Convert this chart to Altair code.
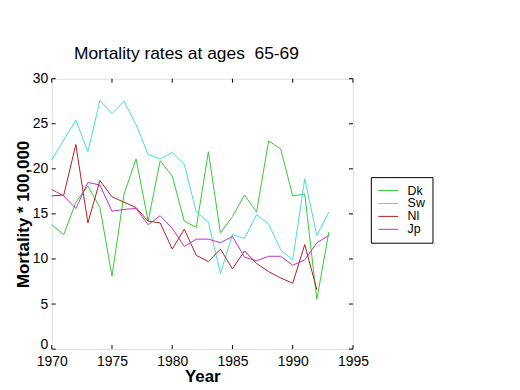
import altair as alt
import pandas as pd

years = list(range(1970, 1994))
years_nl = list(range(1970, 1993))

dk = [13.8, 12.7, 16.3, 18.1, 15.7, 8.1, 17.2, 21.1, 14.2, 20.9, 19.2, 14.2, 13.5, 21.9,
      12.9, 14.7, 17.1, 15.2, 23.1, 22.2, 17.0, 17.2, 5.5, 13.0]
sw = [21.0, 23.2, 25.4, 21.9, 27.6, 26.1, 27.5, 24.9, 21.6, 21.1, 21.8, 20.5, 15.2, 14.1,
      8.4, 12.7, 12.3, 14.9, 13.9, 11.0, 9.9, 18.9, 12.6, 15.2]
nl = [17.0, 17.1, 22.7, 14.0, 18.7, 16.9, 16.3, 15.7, 14.2, 14.0, 11.1, 13.3, 10.4, 9.7,
      11.1, 8.9, 10.9, 9.5, 8.6, 7.9, 7.3, 11.6, 6.6]
jp = [17.7, 17.0, 15.6, 18.5, 18.2, 15.3, 15.5, 15.6, 13.8, 14.8, 13.4, 11.4, 12.2, 12.2,
      11.8, 12.5, 10.2, 9.8, 10.3, 10.3, 9.3, 9.9, 11.8, 12.6]

names = ["Dk", "Sw", "Nl", "Jp"]
colors = ["#33cc33", "#44dddd", "#b41e1e", "#c030c0"]
x_ticks = [1970, 1975, 1980, 1985, 1990, 1995]
y_ticks = [0, 5, 10, 15, 20, 25, 30]

rows = []
for name, xs, vals in [("Dk", years, dk), ("Sw", years, sw), ("Nl", years_nl, nl), ("Jp", years, jp)]:
    for yr, v in zip(xs, vals):
        rows.append({"year": yr, "value": v, "country": name})
df = pd.DataFrame(rows)

W, H = 303, 272
font = "Liberation Sans"

x_scale = alt.Scale(domain=[1970, 1995], nice=False, zero=False)
y_scale = alt.Scale(domain=[0, 30], nice=False, zero=True)

x_axis = alt.Axis(values=x_ticks, format="d", title="Year", grid=False,
                  ticks=False, tickSize=0, domain=False, labelPadding=5,
                  labelFontSize=14, labelFont=font, labelColor="black",
                  titleFont=font, titleFontSize=17, titleFontWeight="bold",
                  titleColor="black", titlePadding=1,
                  labelFlush=False, labelOverlap=False)
y_axis = alt.Axis(values=y_ticks, title="Mortality * 100,000", grid=False,
                  ticks=False, tickSize=0, domain=False, labelPadding=4,
                  labelOffset={"condition": {"test": "datum.value == 0", "value": -5}, "value": 0},
                  labelFontSize=14, labelFont=font, labelColor="black",
                  titleFont=font, titleFontSize=17, titleFontWeight="bold",
                  titleColor="black", titlePadding=0,
                  labelFlush=False, labelOverlap=False)

lines = alt.Chart(df).mark_line(strokeWidth=1).encode(
    x=alt.X("year:Q", scale=x_scale, axis=x_axis),
    y=alt.Y("value:Q", scale=y_scale, axis=y_axis),
    color=alt.Color("country:N", sort=names,
                    scale=alt.Scale(domain=names, range=colors),
                    legend=alt.Legend(orient="none", legendX=321, legendY=99, title=None,
                                      strokeColor="black", padding=7, fillColor="white",
                                      symbolType="stroke", symbolSize=400,
                                      symbolStrokeWidth=1, clipHeight=13, rowPadding=0,
                                      labelFont=font, labelFontSize=12.5, labelOffset=9,
                                      labelColor="black")),
    detail="country:N",
)

xt = pd.DataFrame({"t": x_ticks})
yt = pd.DataFrame({"t": y_ticks})

x_bottom = alt.Chart(xt).mark_rule(color="black", strokeWidth=1).encode(
    x=alt.X("t:Q", scale=x_scale, axis=x_axis), y=alt.value(H), y2=alt.value(H - 4))
x_top = alt.Chart(xt).mark_rule(color="black", strokeWidth=1).encode(
    x=alt.X("t:Q", scale=x_scale, axis=x_axis), y=alt.value(0), y2=alt.value(4))
y_left = alt.Chart(yt).mark_rule(color="black", strokeWidth=1).encode(
    y=alt.Y("t:Q", scale=y_scale, axis=y_axis), x=alt.value(0), x2=alt.value(4))
y_right = alt.Chart(yt).mark_rule(color="black", strokeWidth=1).encode(
    y=alt.Y("t:Q", scale=y_scale, axis=y_axis), x=alt.value(W), x2=alt.value(W - 4))

chart = alt.layer(lines, x_bottom, x_top, y_left, y_right).properties(
    width=W, height=H,
    title=alt.TitleParams("Mortality rates at ages \u00a065-69", font=font, fontSize=17.5,
                          fontWeight="normal", color="black", anchor="middle",
                          dx=-16, offset=-5, baseline="alphabetic"),
    padding={"left": 44, "top": 70, "right": 160, "bottom": 38},
    autosize="none",
).configure_view(stroke="black", strokeWidth=1).configure(background="white")

chart.save("out.html", embed_options={"renderer": "svg", "actions": False})
